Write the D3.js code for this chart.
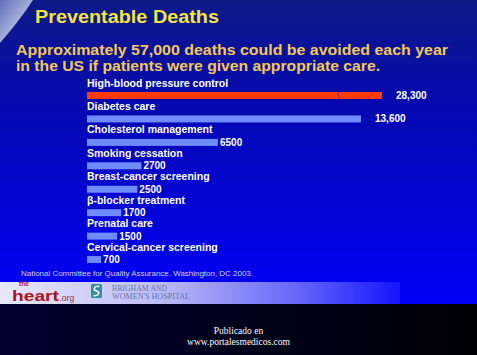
<!DOCTYPE html>
<html lang="en">
<head>
    <meta charset="UTF-8">
    <title>Preventable Deaths</title>
    <script src="https://d3js.org/d3.v7.min.js"></script>
    <style>
        body {
            margin: 0;
            padding: 0;
            background: #000;
        }
        svg {
            display: block;
        }
        .label {
            font-family: "Liberation Sans", Arial, sans-serif;
            font-weight: bold;
            font-size: 10.5px;
            fill: #ffffff;
        }
        .value {
            font-family: "Liberation Sans", Arial, sans-serif;
            font-weight: bold;
            font-size: 10px;
            fill: #ffffff;
        }
    </style>
</head>
<body>
    <svg width="477" height="355"></svg>
    <script>
        // Chart data
        const categories = [
            "High-blood pressure control",
            "Diabetes care",
            "Cholesterol management",
            "Smoking cessation",
            "Breast-cancer screening",
            "\u03B2-blocker treatment",
            "Prenatal care",
            "Cervical-cancer screening"
        ];
        const deaths = [28300, 13600, 6500, 2700, 2500, 1700, 1500, 700];
        const valueLabels = ["28,300", "13,600", "6500", "2700", "2500", "1700", "1500", "700"];

        const svg = d3.select("svg"),
            width = +svg.attr("width"),
            height = +svg.attr("height");

        const defs = svg.append("defs");

        // Background gradient (dark navy at top to bright blue)
        const bg = defs.append("linearGradient")
            .attr("id", "bg").attr("x1", 0).attr("y1", 0).attr("x2", 0).attr("y2", 1);
        bg.append("stop").attr("offset", "0%").attr("stop-color", "#0e1a86");
        bg.append("stop").attr("offset", "35%").attr("stop-color", "#0508b0");
        bg.append("stop").attr("offset", "100%").attr("stop-color", "#0000f8");

        const swoosh = defs.append("linearGradient")
            .attr("id", "swoosh").attr("x1", 0).attr("y1", 0).attr("x2", 1).attr("y2", 1);
        swoosh.append("stop").attr("offset", "0%").attr("stop-color", "#6070bc");
        swoosh.append("stop").attr("offset", "100%").attr("stop-color", "#e8e8f4");

        const band = defs.append("linearGradient")
            .attr("id", "band").attr("x1", 0).attr("y1", 0).attr("x2", 1).attr("y2", 0);
        band.append("stop").attr("offset", "0%").attr("stop-color", "#e8e8fa");
        band.append("stop").attr("offset", "40%").attr("stop-color", "#bcbcf6");
        band.append("stop").attr("offset", "75%").attr("stop-color", "#6464fa");
        band.append("stop").attr("offset", "100%").attr("stop-color", "#1414fc");

        const foot = defs.append("linearGradient")
            .attr("id", "foot").attr("x1", 0).attr("y1", 0).attr("x2", 1).attr("y2", 0);
        foot.append("stop").attr("offset", "0%").attr("stop-color", "#000030");
        foot.append("stop").attr("offset", "100%").attr("stop-color", "#000006");

        svg.append("rect").attr("width", width).attr("height", 304).attr("fill", "url(#bg)");
        svg.append("path")
            .attr("d", "M0,0 L33,0 Q20,20 0,43 Z")
            .attr("fill", "url(#swoosh)");

        // Titles
        svg.append("text")
            .attr("x", 35).attr("y", 23)
            .attr("textLength", 184).attr("lengthAdjust", "spacingAndGlyphs")
            .style("font-family", "'Liberation Sans', Arial, sans-serif")
            .style("font-weight", "bold").style("font-size", "18px")
            .attr("fill", "#f4e43c")
            .text("Preventable Deaths");

        const subtitle = [
            { text: "Approximately 57,000 deaths could be avoided each year", len: 432 },
            { text: "in the US if patients were given appropriate care.", len: 364 }
        ];
        svg.append("g").selectAll("text")
            .data(subtitle)
            .join("text")
            .attr("x", 16).attr("y", (d, i) => 55 + i * 16)
            .attr("textLength", d => d.len).attr("lengthAdjust", "spacingAndGlyphs")
            .style("font-family", "'Liberation Sans', Arial, sans-serif")
            .style("font-weight", "bold").style("font-size", "14px")
            .attr("fill", "#f2c858")
            .text(d => d.text);

        // Scales: the first bar is broken, so the x scale is piecewise
        const x = d3.scaleLinear()
            .domain([0, 13600, 28300])
            .range([87, 361, 382]);

        const y = d3.scaleBand()
            .domain(categories)
            .range([80, 267.5]);

        const rows = categories.map((c, i) => ({ name: c, value: deaths[i], label: valueLabels[i] }));

        const row = svg.append("g").selectAll("g")
            .data(rows)
            .join("g")
            .attr("transform", d => `translate(0,${y(d.name)})`);

        row.append("text")
            .attr("class", "label")
            .attr("x", 87)
            .attr("y", 6.5)
            .text(d => d.name);

        row.append("rect")
            .attr("x", x(0))
            .attr("y", 12)
            .attr("width", d => x(d.value) - x(0))
            .attr("height", 7)
            .attr("fill", (d, i) => i === 0 ? "#ff3a08" : "#6e8cff");

        row.append("text")
            .attr("class", "value")
            .attr("x", d => x(d.value) + (d.value >= 10000 ? 14 : 2))
            .attr("y", 19)
            .text(d => d.label);

        // Break mark on the first bar
        const bx = x(12500), by = y(categories[0]) + 12;
        svg.append("path")
            .attr("d", `M${bx},${by} L${bx - 1},${by + 2.5} L${bx + 1},${by + 4.5} L${bx},${by + 7}`)
            .attr("fill", "none")
            .attr("stroke", "#3a3a88")
            .attr("stroke-width", 1);

        // Source note
        svg.append("text")
            .attr("x", 21).attr("y", 276)
            .attr("textLength", 232).attr("lengthAdjust", "spacingAndGlyphs")
            .style("font-family", "'Liberation Sans', Arial, sans-serif")
            .style("font-size", "7.5px")
            .attr("fill", "#d4d4ea")
            .text("National Committee for Quality Assurance. Washington, DC 2003.");

        // Logo band
        svg.append("rect").attr("x", 0).attr("y", 282).attr("width", 400).attr("height", 22).attr("fill", "url(#band)");

        svg.append("text")
            .attr("x", 19).attr("y", 285.5)
            .style("font-family", "'Liberation Sans', Arial, sans-serif")
            .style("font-weight", "bold").style("font-size", "6.5px")
            .attr("fill", "#a8121c")
            .text("the");
        svg.append("text")
            .attr("x", 12).attr("y", 301)
            .attr("textLength", 47).attr("lengthAdjust", "spacingAndGlyphs")
            .style("font-family", "'Liberation Sans', Arial, sans-serif")
            .style("font-weight", "bold").style("font-size", "15px")
            .attr("fill", "#ae121c")
            .text("heart");
        svg.append("text")
            .attr("x", 59.5).attr("y", 301)
            .style("font-family", "'Liberation Sans', Arial, sans-serif")
            .style("font-size", "8.5px")
            .attr("fill", "#8a3038")
            .text(".org");

        svg.append("rect")
            .attr("x", 91).attr("y", 284).attr("width", 11).attr("height", 14)
            .attr("rx", 1.5)
            .attr("fill", "#2e8e9e");
        svg.append("path")
            .attr("d", "M99.5,286.5 C94,285.5 92.5,290 96.5,291 C100.5,292 99,296.5 93.5,295.5")
            .attr("fill", "none")
            .attr("stroke", "#ffffff")
            .attr("stroke-width", 1.6);

        const brigham = ["BRIGHAM AND", "WOMEN'S HOSPITAL"];
        svg.append("g").selectAll("text")
            .data(brigham)
            .join("text")
            .attr("x", 112).attr("y", (d, i) => 291 + i * 8)
            .attr("textLength", (d, i) => i === 0 ? 55 : 78)
            .attr("lengthAdjust", "spacingAndGlyphs")
            .style("font-family", "'Liberation Serif', 'Times New Roman', serif")
            .style("font-size", "7.5px")
            .attr("fill", "#6474a8")
            .text(d => d);

        // Black footer
        svg.append("rect").attr("x", 0).attr("y", 304).attr("width", width).attr("height", height - 304).attr("fill", "url(#foot)");

        const credit = ["Publicado en", "www.portalesmedicos.com"];
        svg.append("g").selectAll("text")
            .data(credit)
            .join("text")
            .attr("x", 238.5).attr("y", (d, i) => 334 + i * 10.5)
            .attr("text-anchor", "middle")
            .style("font-family", "'Liberation Serif', 'Times New Roman', serif")
            .style("font-size", "9.5px")
            .attr("fill", "#ffffff")
            .text(d => d);
    </script>
</body>
</html>
